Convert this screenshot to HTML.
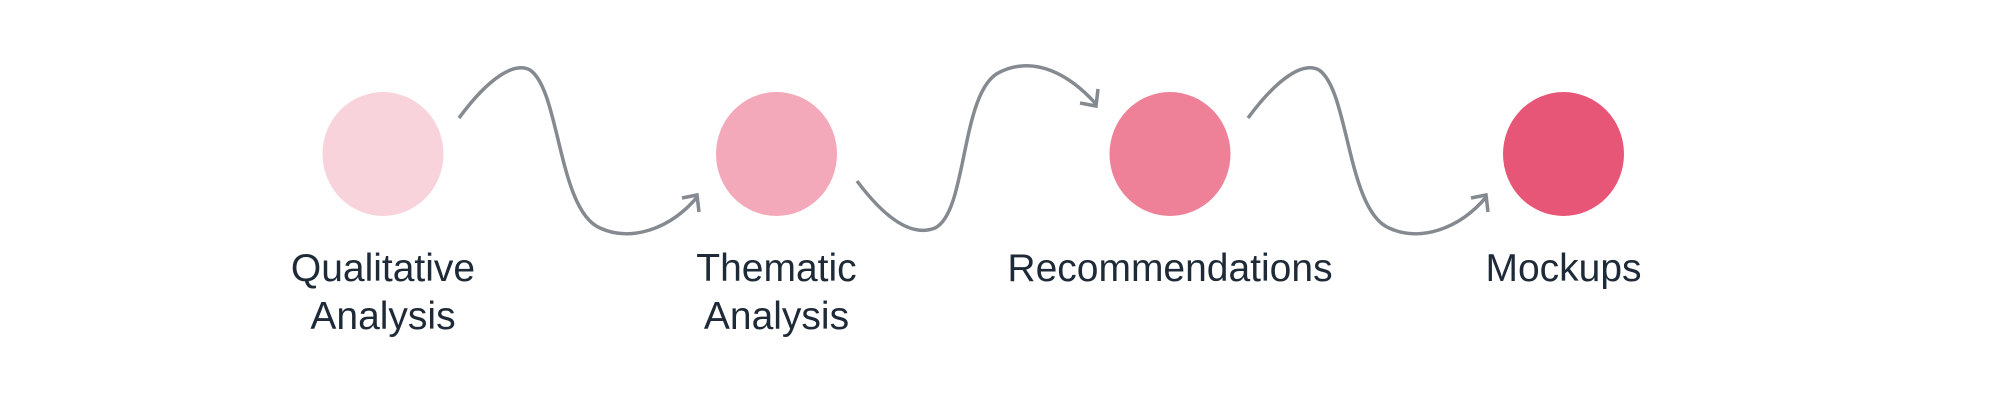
<!DOCTYPE html>
<html><head><meta charset="utf-8"><style>
html,body{margin:0;padding:0;background:#fff;}
svg{display:block;}
text{font-family:"Liberation Sans",sans-serif;font-size:39px;fill:#1e2a38;text-anchor:middle;}
</style></head><body>
<svg id="chart" width="2000" height="400" viewBox="0 0 2000 400">
  <g fill="none" stroke="#858a90" stroke-width="3.5">
    <path d="M459,118 C490,76 515,62 530,70 C560,90 558,210 600,228 C630,242 670,230 698,196"/>
    <polyline points="682,198 697,195 699,212"/>
  </g>
  <g fill="none" stroke="#858a90" stroke-width="3.5">
    <path d="M857,181 C890,225 915,236 935,228 C968,212 960,90 1000,72 C1035,55 1070,75 1096,104"/>
    <polyline points="1080,103 1096,106 1098,89"/>
  </g>
  <g fill="none" stroke="#858a90" stroke-width="3.5" transform="translate(789,0)">
    <path d="M459,118 C490,76 515,62 530,70 C560,90 558,210 600,228 C630,242 670,230 698,196"/>
    <polyline points="682,198 697,195 699,212"/>
  </g>
  <g id="steps"></g>
</svg>
<script>
const stepNames = [["Qualitative","Analysis"],["Thematic","Analysis"],["Recommendations"],["Mockups"]];
const stepColors = ["#f8d3dc","#f3a9b9","#ee8198","#e85677"];
const stepIndex = [0,1,2,3];
const g = document.getElementById('steps');
const NS = 'http://www.w3.org/2000/svg';
function xPos(i){ return 383 + i*393.5; }
stepIndex.forEach(function(i){
  const c = document.createElementNS(NS,'ellipse');
  c.setAttribute('cx', xPos(i));
  c.setAttribute('cy', 154);
  c.setAttribute('rx', 60.5);
  c.setAttribute('ry', 62);
  c.setAttribute('fill', stepColors[i]);
  
  
  g.appendChild(c);
  stepNames[i].forEach(function(line, j){
    const t = document.createElementNS(NS,'text');
    t.setAttribute('x', xPos(i));
    t.setAttribute('y', 281 + j*48);
    t.textContent = line;
    
    
    g.appendChild(t);
  });
});
</script>
</body></html>
